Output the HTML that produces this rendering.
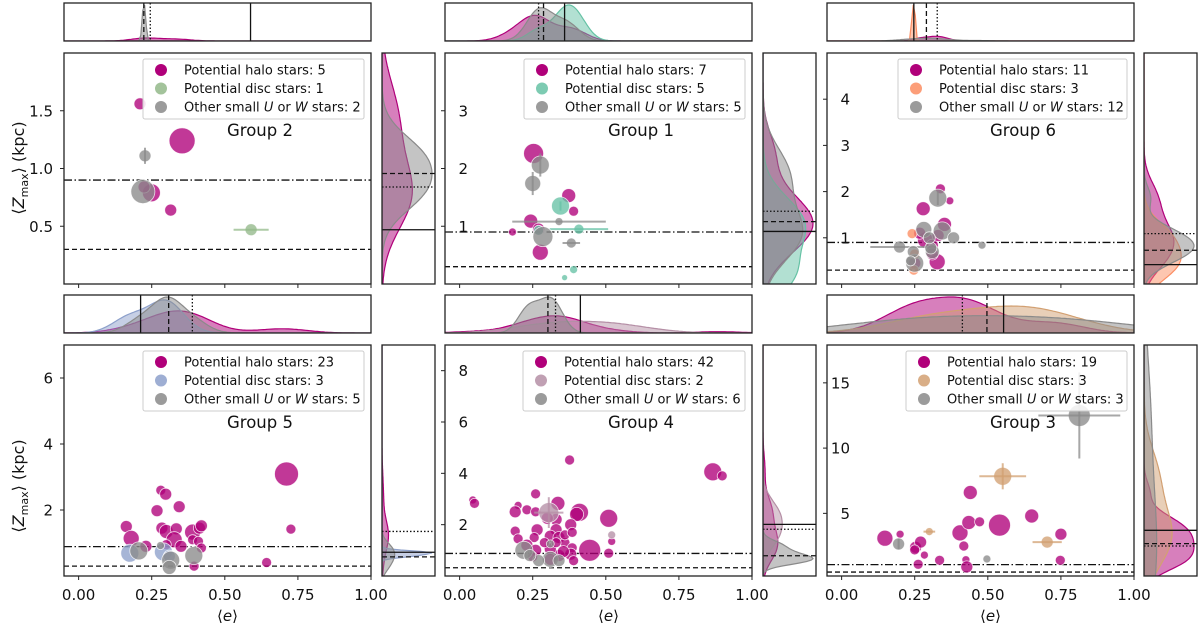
<!DOCTYPE html>
<html><head><meta charset="utf-8"><style>
html,body{margin:0;padding:0;background:#fff}
svg{display:block;font-family:"DejaVu Sans","Liberation Sans",sans-serif}
</style></head><body>
<svg id="fig" width="1200" height="626" viewBox="0 0 1200 626" xmlns="http://www.w3.org/2000/svg"></svg>
<script>
// ---------------- DATA ----------------
const xTicks=[0,0.25,0.5,0.75,1.0];
const xTickLabels=["0.00","0.25","0.50","0.75","1.00"];
const groupNames=["Group 2","Group 1","Group 6","Group 5","Group 4","Group 3"];
const haloCounts=[5,7,11,23,42,19];
const discCounts=[1,5,3,3,2,3];
const otherCounts=[2,5,12,5,6,3];
const discColors=["#93b98a","#66c2a5","#fc8d62","#8da0cb","#b58fa6","#d2a072"];
const yDomains=[[0,2],[0,4],[0,5],[0,7],[0,9],[0.2,17.9]];
const yTicksG2=[0.5,1.0,1.5]; const yTickLabelsG2=["0.5","1.0","1.5"];
const yTicksG1=[1,2,3]; const yTickLabelsG1=["1","2","3"];
const yTicksG6=[1,2,3,4]; const yTickLabelsG6=["1","2","3","4"];
const yTicksG5=[2,4,6]; const yTickLabelsG5=["2","4","6"];
const yTicksG4=[2,4,6,8]; const yTickLabelsG4=["2","4","6","8"];
const yTicksG3=[5,10,15]; const yTickLabelsG3=["5","10","15"];

// reference lines [dash-dot, dashed]
const zRefG2=[0.9,0.3], zRefG1=[0.9,0.3], zRefG6=[0.9,0.3], zRefG5=[0.89,0.3], zRefG4=[0.88,0.32], zRefG3=[1.07,0.5];
// marginal marker lines [solid, dashed, dotted]
const eMarkG2=[0.588,0.223,0.245], zMarkG2=[0.47,0.957,0.84];
const eMarkG1=[0.359,0.287,0.27], zMarkG1=[0.91,1.08,1.26];
const eMarkG6=[0.247,0.29,0.327], zMarkG6=[0.42,0.73,1.09];
const eMarkG5=[0.212,0.308,0.389], zMarkG5=[0.72,0.58,1.35];
const eMarkG4=[0.413,0.302,0.328], zMarkG4=[2.01,0.79,1.82];
const eMarkG3=[0.554,0.497,0.413], zMarkG3=[3.7,2.68,2.5];

// Group 2
const G2_halo_e=[0.21,0.354,0.249,0.315,0.224];
const G2_halo_z=[1.56,1.24,0.79,0.64,0.84];
const G2_halo_s=[6,13,9,6,6];
const G2_disc_e=[0.59]; const G2_disc_z=[0.47]; const G2_disc_s=[6];
const G2_disc_xerr=[0.06]; const G2_disc_yerr=[0];
const G2_other_e=[0.227,0.22]; const G2_other_z=[1.11,0.8]; const G2_other_s=[6,12];
const G2_other_xerr=[0,0]; const G2_other_yerr=[0.07,0];
// Group 1
const G1_halo_e=[0.253,0.373,0.39,0.243,0.181,0.276,0.27];
const G1_halo_z=[2.26,1.53,1.26,1.09,0.9,0.55,0.95];
const G1_halo_s=[10,7,5,7,4,8,6];
const G1_disc_e=[0.345,0.408,0.39,0.359,0.27];
const G1_disc_z=[1.35,0.95,0.25,0.11,0.93];
const G1_disc_s=[9,5,4,3,5];
const G1_disc_xerr=[0,0.1,0,0,0]; const G1_disc_yerr=[0.08,0,0,0,0];
const G1_other_e=[0.276,0.25,0.34,0.285,0.382];
const G1_other_z=[2.06,1.74,1.08,0.82,0.71];
const G1_other_s=[9,8,4,10,5];
const G1_other_xerr=[0,0,0.16,0,0.03]; const G1_other_yerr=[0.2,0.2,0,0,0];
// Group 6
const G6_halo_e=[0.338,0.37,0.279,0.352,0.327,0.287,0.31,0.267,0.33,0.25,0.31];
const G6_halo_z=[2.06,1.8,1.63,1.29,0.48,0.95,0.84,1.1,1.05,0.45,0.65];
const G6_halo_s=[5,4,7,7,8,8,6,6,6,6,6];
const G6_disc_e=[0.241,0.247,0.25]; const G6_disc_z=[1.09,0.3,0.65]; const G6_disc_s=[5,5,5];
const G6_other_e=[0.329,0.281,0.344,0.383,0.48,0.198,0.31,0.25,0.245,0.305,0.3,0.236];
const G6_other_z=[1.86,1.18,1.15,1.0,0.84,0.8,0.7,0.45,0.7,0.78,1.0,0.5];
const G6_other_s=[9,8,9,6,4,6,7,9,6,6,6,5];
const G6_other_xerr=[0,0,0,0,0,0.1,0,0,0,0,0,0]; const G6_other_yerr=[0.15,0,0,0,0,0,0,0,0,0,0,0];
// Group 5
const G5_halo_e=[0.711,0.726,0.643,0.281,0.298,0.344,0.268,0.163,0.18,0.285,0.30,0.334,0.327,0.39,0.413,0.42,0.39,0.41,0.42,0.395,0.35,0.30,0.23];
const G5_halo_z=[3.09,1.42,0.41,2.6,2.48,2.1,1.98,1.5,1.14,1.45,1.35,1.43,1.1,1.33,1.45,1.52,1.1,1.05,0.85,0.3,0.9,0.95,0.9];
const G5_halo_s=[12,5,5,5,6,6,6,6,8,6,7,6,8,8,6,6,5,5,5,5,6,5,6];
const G5_disc_e=[0.175,0.29,0.31]; const G5_disc_z=[0.69,0.73,0.6]; const G5_disc_s=[9,9,6];
const G5_other_e=[0.206,0.315,0.31,0.394,0.28]; const G5_other_z=[0.76,0.48,0.26,0.62,0.92]; const G5_other_s=[9,9,7,9,4];
// Group 4
const G4_halo_e=[0.866,0.898,0.376,0.045,0.051,0.26,0.336,0.2,0.19,0.23,0.26,0.41,0.40,0.51,0.33,0.38,0.19,0.265,0.33,0.445,0.51,0.52,0.31,0.34,0.36,0.385,0.255,0.23,0.26,0.38,0.39,0.34,0.31,0.25,0.33,0.30,0.2,0.36,0.385,0.29,0.355,0.31];
const G4_halo_z=[4.06,3.9,4.52,2.96,2.83,3.2,2.83,2.75,2.5,2.58,2.5,2.48,2.4,2.25,2.2,2.0,1.75,1.8,1.8,1.0,0.89,1.35,1.55,1.5,1.3,1.1,1.5,1.2,1.0,0.85,0.6,0.8,1.05,0.75,1.3,2.25,1.45,1.6,1.7,1.3,0.95,0.65];
const G4_halo_s=[9,5,5,4,5,5,7,4,6,5,5,9,7,9,6,6,5,6,6,11,5,4,6,6,5,5,5,6,6,6,5,6,6,5,5,6,5,5,5,5,6,6];
const G4_disc_e=[0.305,0.52]; const G4_disc_z=[2.47,1.6]; const G4_disc_s=[10,4];
const G4_disc_xerr=[0.05,0]; const G4_disc_yerr=[0.6,0];
const G4_other_e=[0.22,0.31,0.31,0.34,0.27,0.24]; const G4_other_z=[1.0,1.25,0.65,0.6,0.6,0.8]; const G4_other_s=[9,4,8,6,6,6];
// Group 3
const G3_halo_e=[0.148,0.2,0.253,0.27,0.283,0.262,0.25,0.335,0.405,0.418,0.425,0.428,0.44,0.435,0.472,0.54,0.65,0.75,0.748];
const G3_halo_z=[3.1,3.4,2.4,2.8,1.8,1.1,2.2,1.4,3.5,2.5,1.45,0.9,6.6,4.3,4.35,4.1,4.8,3.4,1.4];
const G3_halo_s=[8,4,6,6,4,5,5,5,8,5,4,6,7,7,5,11,7,6,5];
const G3_disc_e=[0.551,0.30,0.703]; const G3_disc_z=[7.84,3.6,2.8]; const G3_disc_s=[9,4,6];
const G3_disc_xerr=[0.08,0.02,0.05]; const G3_disc_yerr=[1.0,0,0];
const G3_other_e=[0.813,0.195,0.497]; const G3_other_z=[12.5,2.65,1.5]; const G3_other_s=[11,6,4];
const G3_other_xerr=[0.14,0,0]; const G3_other_yerr=[3.3,0.4,0];

// ---------------- LAYOUT ----------------
const NS="http://www.w3.org/2000/svg";
const svg=document.getElementById('fig');
const HALO="#b0007a", OTHER="#8a8a8a";
const colX=[64,445,827], colRM=[382,763,1144], rowY=[53,345], rowTop=[3,295];
const PW=307, PH=231, TH=38, RW=53;
const legendW=[221,221,229,221,222,221];
function mk(tag,attrs,parent){const el=document.createElementNS(NS,tag);for(const k in attrs)el.setAttribute(k,attrs[k]);(parent||svg).appendChild(el);return el;}

const panels=[
 {yT:yTicksG2,yL:yTickLabelsG2,ref:zRefG2,em:eMarkG2,zm:zMarkG2,
  halo:[G2_halo_e,G2_halo_z,G2_halo_s],disc:[G2_disc_e,G2_disc_z,G2_disc_s,G2_disc_xerr,G2_disc_yerr],other:[G2_other_e,G2_other_z,G2_other_s,G2_other_xerr,G2_other_yerr]},
 {yT:yTicksG1,yL:yTickLabelsG1,ref:zRefG1,em:eMarkG1,zm:zMarkG1,
  halo:[G1_halo_e,G1_halo_z,G1_halo_s],disc:[G1_disc_e,G1_disc_z,G1_disc_s,G1_disc_xerr,G1_disc_yerr],other:[G1_other_e,G1_other_z,G1_other_s,G1_other_xerr,G1_other_yerr]},
 {yT:yTicksG6,yL:yTickLabelsG6,ref:zRefG6,em:eMarkG6,zm:zMarkG6,
  halo:[G6_halo_e,G6_halo_z,G6_halo_s],disc:[G6_disc_e,G6_disc_z,G6_disc_s],other:[G6_other_e,G6_other_z,G6_other_s,G6_other_xerr,G6_other_yerr]},
 {yT:yTicksG5,yL:yTickLabelsG5,ref:zRefG5,em:eMarkG5,zm:zMarkG5,
  halo:[G5_halo_e,G5_halo_z,G5_halo_s],disc:[G5_disc_e,G5_disc_z,G5_disc_s],other:[G5_other_e,G5_other_z,G5_other_s]},
 {yT:yTicksG4,yL:yTickLabelsG4,ref:zRefG4,em:eMarkG4,zm:zMarkG4,
  halo:[G4_halo_e,G4_halo_z,G4_halo_s],disc:[G4_disc_e,G4_disc_z,G4_disc_s,G4_disc_xerr,G4_disc_yerr],other:[G4_other_e,G4_other_z,G4_other_s]},
 {yT:yTicksG3,yL:yTickLabelsG3,ref:zRefG3,em:eMarkG3,zm:zMarkG3,
  halo:[G3_halo_e,G3_halo_z,G3_halo_s],disc:[G3_disc_e,G3_disc_z,G3_disc_s,G3_disc_xerr,G3_disc_yerr],other:[G3_other_e,G3_other_z,G3_other_s,G3_other_xerr,G3_other_yerr]}
];

function kde(vals,lo,hi,n){
  const m=vals.length; if(m<2) return null;
  const mean=vals.reduce((a,b)=>a+b,0)/m;
  const sd=Math.sqrt(vals.reduce((a,b)=>a+(b-mean)*(b-mean),0)/(m-1))||0.01;
  const bw=sd*Math.pow(m,-0.2);
  const out=[];
  for(let i=0;i<=n;i++){const x=lo+(hi-lo)*i/n;let d=0;for(const v of vals){const u=(x-v)/bw;d+=Math.exp(-0.5*u*u);}out.push([x,d/(m*bw*Math.sqrt(2*Math.PI))]);}
  return out;
}

const defs=mk('defs',{});
panels.forEach((p,pi)=>{
  const col=pi%3,row=Math.floor(pi/3);
  const x0=colX[col],y0=rowY[row],tY=rowTop[row],rx=colRM[col];
  const [yd0,yd1]=yDomains[pi];
  const X=e=>x0+(e+0.05)/1.05*PW;
  const Y=z=>y0+PH-(z-yd0)/(yd1-yd0)*PH;
  const dc=discColors[pi];
  const g=mk('g',{});
  
  
  const cm=mk('clipPath',{id:'cm'+pi},defs);mk('rect',{x:x0,y:y0,width:PW,height:PH},cm);
  const ct=mk('clipPath',{id:'ct'+pi},defs);mk('rect',{x:x0,y:tY,width:PW,height:TH},ct);
  const cr=mk('clipPath',{id:'cr'+pi},defs);mk('rect',{x:rx,y:y0,width:RW,height:PH},cr);

  const series=[[p.halo,HALO,'halo'],[p.disc,dc,'disc'],[p.other,OTHER,'other']];
  // ---- top marginal (e) ----
  const tg=mk('g',{'clip-path':'url(#ct'+pi+')'},g);
  
  
  const kT=series.map(s=>kde(s[0][0],-0.05,1,160));
  const maxT=Math.max(...kT.filter(k=>k).map(k=>Math.max(...k.map(q=>q[1]))));
  kT.forEach((k,si)=>{ if(!k)return;
    let d='M'+X(-0.05)+','+(tY+TH);
    k.forEach(q=>{d+=' L'+X(q[0]).toFixed(1)+','+(tY+TH-q[1]/maxT*(TH-2)).toFixed(1);});
    d+=' L'+X(1)+','+(tY+TH)+' Z';
    const pa=mk('path',{d:d,fill:series[si][1],'fill-opacity':0.5,stroke:series[si][1],'stroke-width':1.2},tg);
    
    
  });
  const dashes=['none','5,3','1.5,2'];
  p.em.forEach((v,i)=>{const l=mk('line',{x1:X(v),x2:X(v),y1:tY,y2:tY+TH,stroke:'#111','stroke-width':1.3,'stroke-dasharray':dashes[i]},g);
    
    });
  mk('rect',{x:x0,y:tY,width:PW,height:TH,fill:'none',stroke:'#222','stroke-width':1.3},g);
  // ---- right marginal (z) ----
  const rg=mk('g',{'clip-path':'url(#cr'+pi+')'},g);
  
  
  const kR=series.map(s=>kde(s[0][1],yd0,yd1,160));
  const maxR=Math.max(...kR.filter(k=>k).map(k=>Math.max(...k.map(q=>q[1]))));
  kR.forEach((k,si)=>{ if(!k)return;
    let d='M'+rx+','+Y(yd0);
    k.forEach(q=>{d+=' L'+(rx+q[1]/maxR*(RW-3)).toFixed(1)+','+Y(q[0]).toFixed(1);});
    d+=' L'+rx+','+Y(yd1)+' Z';
    const pa=mk('path',{d:d,fill:series[si][1],'fill-opacity':0.5,stroke:series[si][1],'stroke-width':1.2},rg);
    
    
  });
  p.zm.forEach((v,i)=>{const l=mk('line',{x1:rx,x2:rx+RW,y1:Y(v),y2:Y(v),stroke:'#111','stroke-width':1.3,'stroke-dasharray':dashes[i]},g);
    
    });
  mk('rect',{x:rx,y:y0,width:RW,height:PH,fill:'none',stroke:'#222','stroke-width':1.3},g);

  // ---- main ----
  const mg=mk('g',{'clip-path':'url(#cm'+pi+')'},g);
  const r1=mk('line',{x1:x0,x2:x0+PW,y1:Y(p.ref[0]),y2:Y(p.ref[0]),stroke:'#111','stroke-width':1.3,'stroke-dasharray':'8,2.5,1.5,2.5'},mg);
  
  
  const r2=mk('line',{x1:x0,x2:x0+PW,y1:Y(p.ref[1]),y2:Y(p.ref[1]),stroke:'#111','stroke-width':1.3,'stroke-dasharray':'5,3'},mg);
  
  
  series.forEach(s=>{
    const [es,zs,ss,xe,ye]=s[0];
    es.forEach((e,i)=>{
      const c=mk('circle',{cx:X(e).toFixed(1),cy:Y(zs[i]).toFixed(1),r:ss[i],fill:s[1],'fill-opacity':0.78,stroke:'#fff','stroke-width':0.8,'stroke-opacity':0.8},mg);
      
      
      if(xe&&xe[i]>0){const l=mk('line',{x1:X(e-xe[i]),x2:X(e+xe[i]),y1:Y(zs[i]),y2:Y(zs[i]),stroke:s[1],'stroke-width':2,'stroke-opacity':0.75},mg);
        
        }
      if(ye&&ye[i]>0){const l=mk('line',{x1:X(e),x2:X(e),y1:Y(zs[i]-ye[i]),y2:Y(zs[i]+ye[i]),stroke:s[1],'stroke-width':2,'stroke-opacity':0.75},mg);
        
        }
    });
  });
  mk('rect',{x:x0,y:y0,width:PW,height:PH,fill:'none',stroke:'#222','stroke-width':1.3},g);
  // x ticks
  xTicks.forEach((t,i)=>{
    mk('line',{x1:X(t),x2:X(t),y1:y0+PH,y2:y0+PH+4,stroke:'#222','stroke-width':1},g);
    if(row===1){const tx=mk('text',{x:X(t),y:y0+PH+24,'font-size':15,'text-anchor':'middle',fill:'#111'},g);tx.textContent=xTickLabels[i];
      
      }
  });
  if(row===1){const xl=mk('text',{x:x0+PW/2+10,y:621,'font-size':15,'text-anchor':'middle',fill:'#111'},g);
    xl.innerHTML='⟨<tspan font-style="italic">e</tspan>⟩';
    
    }
  // y ticks
  p.yT.forEach((t,i)=>{
    mk('line',{x1:x0-4,x2:x0,y1:Y(t),y2:Y(t),stroke:'#222','stroke-width':1},g);
    const ax=col===0?x0-11:x0+23;
    const tx=mk('text',{x:ax,y:Y(t)+5.5,'font-size':15,'text-anchor':'end',fill:'#111'},g);tx.textContent=p.yL[i];
    
    
  });
  // group label
  const gl=mk('text',{x:x0+196,y:y0+83,'font-size':16.5,'text-anchor':'middle',fill:'#111'},g);gl.textContent=groupNames[pi];
  
  
  // legend
  const lw=legendW[pi], lx=x0+PW-7-lw, ly=y0+6;
  const lg=mk('g',{},g);
  
  
  mk('rect',{x:lx,y:ly,width:lw,height:60,fill:'#fff','fill-opacity':0.85,stroke:'#ccc','stroke-width':1,rx:2},lg);
  const labels=['Potential halo stars: '+haloCounts[pi],'Potential disc stars: '+discCounts[pi],null];
  [HALO,dc,OTHER].forEach((c,i)=>{
    const cy=ly+11+i*18.5;
    mk('circle',{cx:lx+18,cy:cy,r:6,fill:c,'fill-opacity':i===0?1:0.85},lg);
    const tx=mk('text',{x:lx+41,y:cy+4.5,'font-size':13,fill:'#111'},lg);
    if(labels[i])tx.textContent=labels[i];
    else tx.innerHTML='Other small <tspan font-style="italic">U</tspan> or <tspan font-style="italic">W</tspan> stars: '+otherCounts[pi];
    
    
  });
});
// y axis titles
[168,486].forEach(cy=>{
  const t=mk('text',{x:0,y:0,'font-size':16,'text-anchor':'middle',fill:'#111',transform:'translate(24,'+cy+') rotate(-90)'});
  t.innerHTML='⟨<tspan font-style="italic">Z</tspan><tspan font-size="11" dy="4">max</tspan><tspan dy="-4">⟩ (kpc)</tspan>';
  
  
});
</script>
</body></html>
